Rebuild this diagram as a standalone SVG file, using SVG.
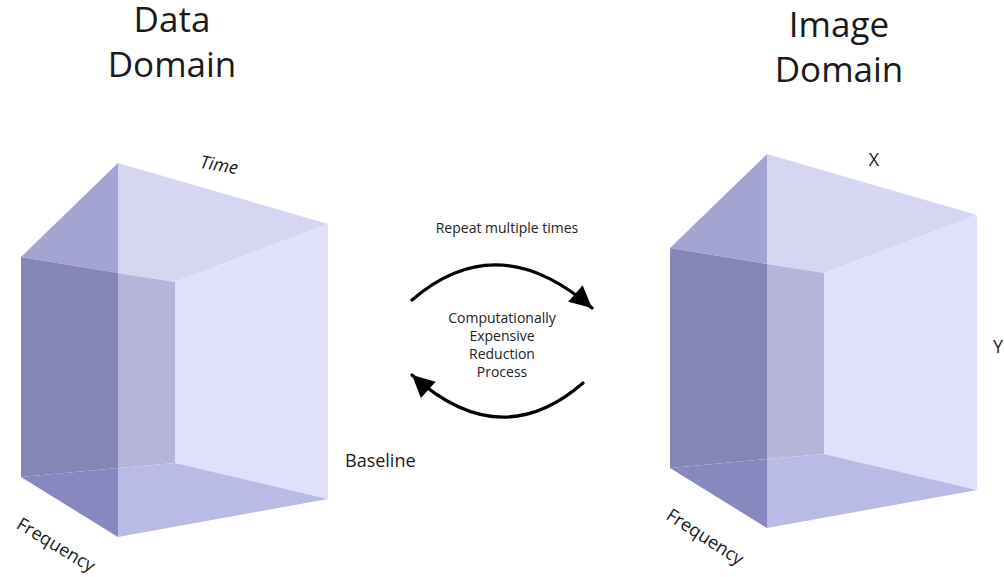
<svg xmlns="http://www.w3.org/2000/svg" width="1004" height="577" viewBox="0 0 1004 577">
  <style>
    text { font-family: "Open Sans", "Noto Sans", "Liberation Sans", sans-serif; fill: #1a1a1a; }
    .title { font-size: 35px; text-anchor: middle; }
    .axis { font-size: 18px; }
    .note { font-size: 14px; text-anchor: middle; fill: #222; }
    .arc { fill: none; stroke: #000; stroke-width: 3.2; stroke-linecap: round; }
  </style>
  <defs>
    <marker id="head" viewBox="-24 -12 24 24" refX="0" refY="0" markerWidth="24" markerHeight="24" markerUnits="userSpaceOnUse" orient="auto">
      <path d="M0,0 L-22,-11 L-22,11 Z" fill="#000"/>
    </marker>
    <g id="cube-shape">
      <polygon points="21,257 118,163 118,273" fill="#a3a3d4"/>
      <polygon points="118,163 328,224 175,282 118,273" fill="#d6d6f3"/>
      <polygon points="21,257 118,273 118,468 21,477" fill="#8585b6"/>
      <polygon points="118,273 175,282 175,463 118,468" fill="#b5b5da"/>
      <polygon points="175,282 328,224 328,499 175,463" fill="#e0e0fa"/>
      <polygon points="21,477 118,468 118,537" fill="#8888c0"/>
      <polygon points="118,468 175,463 328,499 118,537" fill="#babae6"/>
    </g>
  </defs>

  <g id="data-domain">
    <text class="title" x="172" y="32">Data</text>
    <text class="title" x="172" y="77">Domain</text>
    <use href="#cube-shape"/>
    <text class="axis" font-style="italic" font-size="20" text-anchor="middle" transform="translate(218,171) rotate(10)">Time</text>
    <text class="axis" text-anchor="middle" transform="translate(56,545) rotate(31)" y="6">Frequency</text>
    <text class="axis" x="345" y="467" font-size="19">Baseline</text>
  </g>

  <g id="image-domain">
    <text class="title" x="839" y="37">Image</text>
    <text class="title" x="839" y="82">Domain</text>
    <use href="#cube-shape" transform="translate(649,-9)"/>
    <text class="axis" x="874" y="166" text-anchor="middle" font-size="19">X</text>
    <text class="axis" x="993" y="353" font-size="19">Y</text>
    <text class="axis" text-anchor="middle" transform="translate(705,537) rotate(33)" y="6">Frequency</text>
  </g>

  <g id="process">
    <text class="note" x="507" y="233">Repeat multiple times</text>
    <text class="note" x="502" y="323">Computationally</text>
    <text class="note" x="502" y="341">Expensive</text>
    <text class="note" x="502" y="359">Reduction</text>
    <text class="note" x="502" y="377">Process</text>
  </g>

  <g id="connectors">
    <path class="arc" d="M412,300 Q498,226 592,308" marker-end="url(#head)"/>
    <path class="arc" d="M583,383 Q500,455 412,375" marker-end="url(#head)"/>
  </g>
</svg>
